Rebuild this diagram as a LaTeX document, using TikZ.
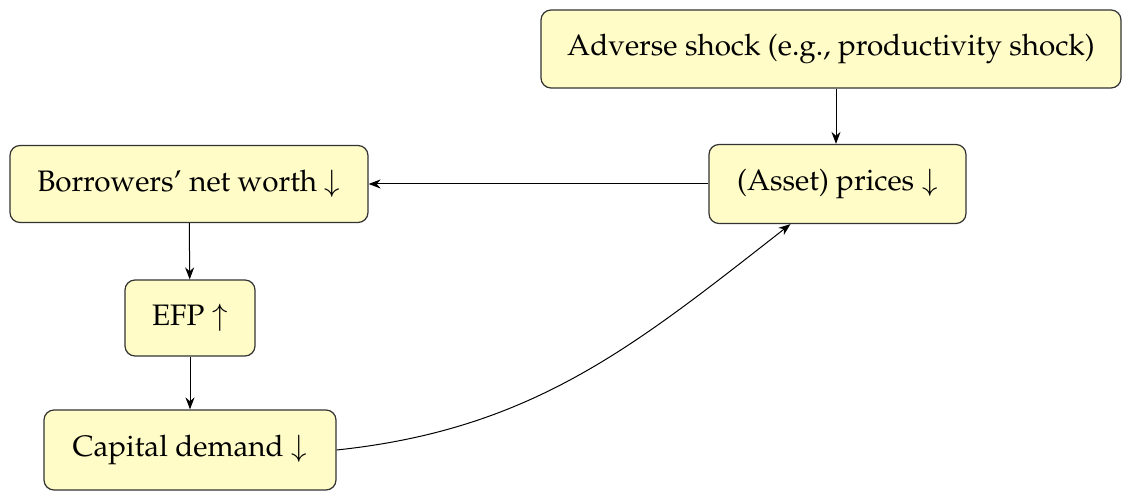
\documentclass[tikz,border=0pt]{standalone}
\usepackage[T1]{fontenc}
\usepackage{mathpazo}
\usepackage{xcolor}
\usepackage{tikz}
\usetikzlibrary{positioning,arrows.meta}

\begin{document}
\begin{tikzpicture}[x=0.5pt, y=-0.5pt,
  box/.style={draw=black!80, rounded corners=5pt, fill=yellow!22, line width=0.6pt,
              inner sep=0pt, align=center, font=\fontsize{14.8}{18}\selectfont},
  arr/.style={-{Stealth[length=6pt, width=4.5pt]}, line width=0.5pt}
]
  \useasboundingbox (0,0) rectangle (1132,496);

  % Boxes
  \node[box, minimum width=290pt, minimum height=39pt] (shock) at (831,49)
    {Adverse shock (e.g., productivity shock)};
  \node[box, minimum width=128.5pt, minimum height=39.5pt] (prices) at (837.5,184)
    {(Asset) prices $\downarrow$};
  \node[box, minimum width=179pt, minimum height=38.5pt] (worth) at (189,184)
    {Borrowers' net worth $\downarrow$};
  \node[box, minimum width=65pt, minimum height=38pt] (efp) at (190,318)
    {EFP $\uparrow$};
  \node[box, minimum width=146pt, minimum height=40pt] (demand) at (190,450)
    {Capital demand $\downarrow$};

  % Connectors
  \draw[arr] (shock.south -| 836,0) -- (prices.north -| 836,0);
  \draw[arr] (prices.west) -- (worth.east);
  \draw[arr] (worth) -- (efp);
  \draw[arr] (efp) -- (demand);
  \draw[arr] (demand.east) to[out=6, in=-142] ([xshift=-23.5pt]prices.south);
\end{tikzpicture}
\end{document}
